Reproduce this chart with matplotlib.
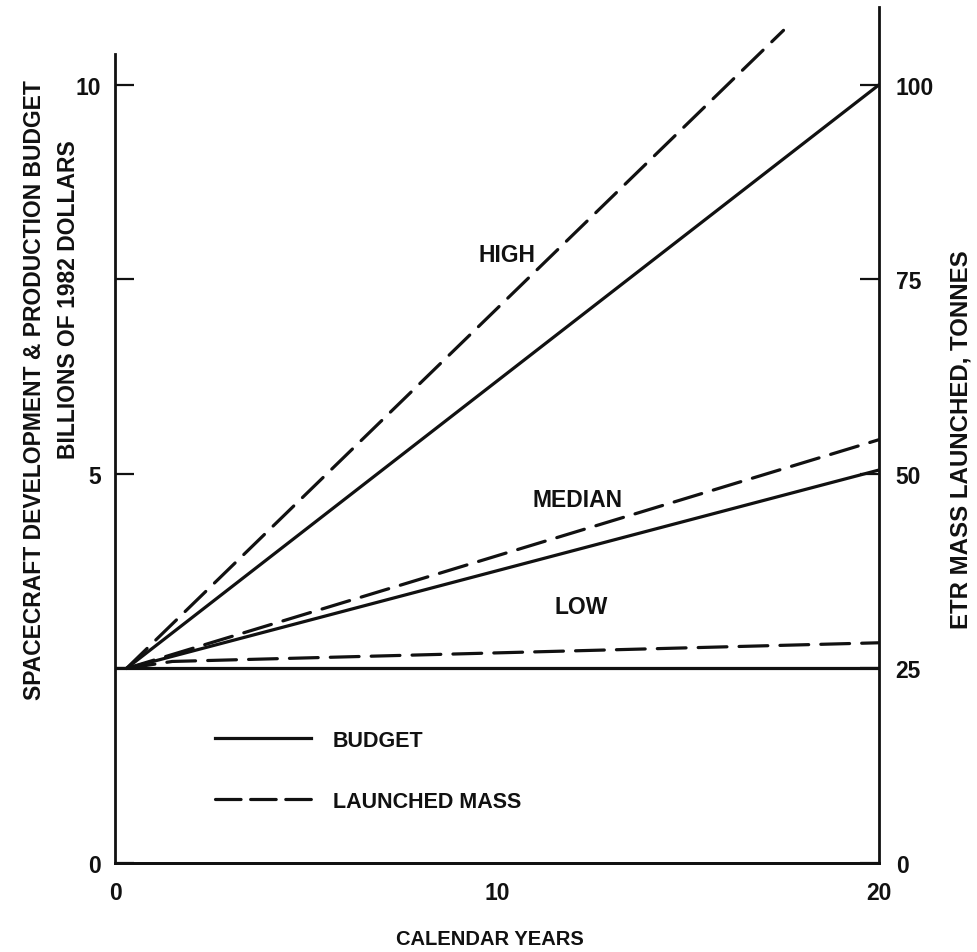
import matplotlib
matplotlib.use("Agg")
import matplotlib.pyplot as plt
from matplotlib.lines import Line2D
from matplotlib import font_manager as fm

# ---- data ----
budget_low_x = [0.0, 20.0]
budget_low_y = [2.5, 2.5]
budget_med_x = [0.3, 20.0]
budget_med_y = [2.5, 5.05]
budget_high_x = [0.3, 20.0]
budget_high_y = [2.5, 10.0]

mass_low_x = [0.3, 1.5, 20.0]
mass_low_y = [25.0, 25.9, 28.3]
mass_med_x = [0.3, 20.0]
mass_med_y = [25.0, 54.4]
mass_high_x = [0.3, 17.5]
mass_high_y = [25.0, 107.0]

curve_labels = ["HIGH", "MEDIAN", "LOW"]
curve_label_x = [10.25, 12.1, 12.2]
curve_label_y = [7.82, 4.67, 3.3]

left_ticks = [0, 2.5, 5, 7.5, 10]
left_ticklabels = ["0", "", "5", "", "10"]
right_ticks = [0, 25, 50, 75, 100]
right_ticklabels = ["0", "25", "50", "75", "100"]
x_ticks = [0, 10, 20]
x_ticklabels = ["0", "10", "20"]

legend_labels = ["BUDGET", "LAUNCHED MASS"]

# ---- fonts: real (non-narrow) Liberation Sans ----
bold_path = None
reg_path = None
for f in fm.fontManager.ttflist:
    fn = f.fname.lower()
    if f.name == 'Liberation Sans' and 'narrow' not in fn and f.style == 'normal':
        if f.weight in (700, 'bold') and bold_path is None:
            bold_path = f.fname
        if f.weight in (400, 'normal', 'regular') and reg_path is None:
            reg_path = f.fname

FS = 16.5


def fp(size=FS, bold=True):
    path = bold_path if bold else reg_path
    if path:
        return fm.FontProperties(fname=path, size=size)
    return fm.FontProperties(family='DejaVu Sans', weight='bold' if bold else 'normal', size=size)


# ---- figure ----
W, H = 977, 953
fig = plt.figure(figsize=(W / 100, H / 100), dpi=100)
ax = fig.add_axes([115 / W, 1 - 864 / H, (879 - 115) / W, (864 - 8) / H])
ax2 = ax.twinx()

ink = "#111111"
lw = 2.3
dash = (0, (9, 3.8))

ax.set_xlim(0, 20)
ax.set_ylim(0, 11.0)
ax2.set_ylim(0, 110.0)

ax.plot(budget_low_x, budget_low_y, color=ink, lw=lw, solid_capstyle='round')
ax.plot(budget_med_x, budget_med_y, color=ink, lw=lw, solid_capstyle='round')
ax.plot(budget_high_x, budget_high_y, color=ink, lw=lw, solid_capstyle='round')

ax2.plot(mass_low_x, mass_low_y, color=ink, lw=lw, ls=dash, dash_capstyle='round')
ax2.plot(mass_med_x, mass_med_y, color=ink, lw=lw, ls=dash, dash_capstyle='round')
ax2.plot(mass_high_x, mass_high_y, color=ink, lw=lw, ls=dash, dash_capstyle='round',
         clip_on=False)

for t, x, y in zip(curve_labels, curve_label_x, curve_label_y):
    ax.text(x, y, t, ha='center', va='center', fontproperties=fp(), color=ink)

# spines
for a in (ax, ax2):
    a.spines['top'].set_visible(False)
    for s in a.spines.values():
        s.set_linewidth(2.0)
        s.set_color(ink)
ax.spines['left'].set_bounds(0, 10.4)
ax2.spines['left'].set_visible(False)
ax.spines['right'].set_visible(False)

ax.set_xticks(x_ticks)
ax.set_xticklabels(x_ticklabels)
ax.tick_params(axis='x', length=0, pad=13, colors=ink)
ax.set_yticks(left_ticks)
ax.set_yticklabels(left_ticklabels)
ax.tick_params(axis='y', direction='in', length=14, width=1.6, pad=10, colors=ink)
ax2.set_yticks(right_ticks)
ax2.set_yticklabels(right_ticklabels)
ax2.tick_params(axis='y', direction='in', length=14, width=1.6, pad=12, colors=ink)
for lab in ax.get_xticklabels() + ax.get_yticklabels() + ax2.get_yticklabels():
    lab.set_fontproperties(fp())

# legend
handles = [Line2D([], [], color=ink, lw=lw),
           Line2D([], [], color=ink, lw=lw, ls=(0, (8, 3)), dash_capstyle='round')]
leg = ax.legend(handles, legend_labels, loc='upper left', bbox_to_anchor=(0.105, 0.178),
                frameon=False, handlelength=4.5, handletextpad=1.0, labelspacing=1.85,
                prop=fp(FS - 1))
for t in leg.get_texts():
    t.set_color(ink)

# axis titles
fig.text(35 / W, 1 - 390 / H, "SPACECRAFT DEVELOPMENT & PRODUCTION BUDGET",
         rotation=90, ha='center', va='center', fontproperties=fp(), color=ink)
fig.text(69 / W, 1 - 300 / H, "BILLIONS OF 1982 DOLLARS",
         rotation=90, ha='center', va='center', fontproperties=fp(), color=ink)
fig.text(961 / W, 1 - 440 / H, "ETR MASS LAUNCHED, TONNES",
         rotation=90, ha='center', va='center', fontproperties=fp(17.3), color=ink)
fig.text(490 / W, 1 - 940 / H, "CALENDAR YEARS",
         ha='center', va='center', fontproperties=fp(14.5), color=ink)

fig.savefig("out.png", dpi=100)
